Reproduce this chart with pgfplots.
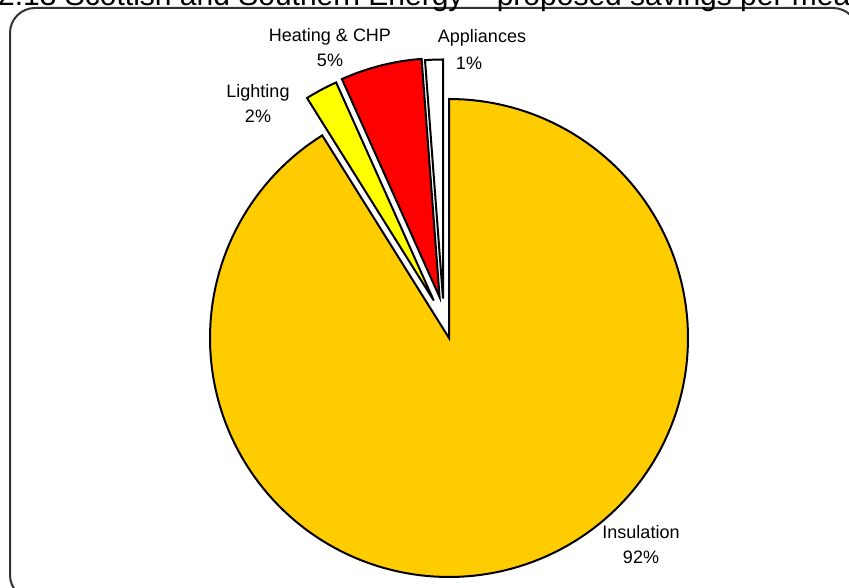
\documentclass[border=0pt]{standalone}
\usepackage{pgfplots}
\pgfplotsset{compat=1.18}
\usepackage{pgfplotstable}
\usepackage{fontspec}
\setmainfont{Liberation Sans}

\definecolor{insul}{HTML}{FFCC00}
\definecolor{light}{HTML}{FFFF00}
\definecolor{heat}{HTML}{FF0000}
\definecolor{appl}{HTML}{FFFFFF}

% share of savings (%), explode offset of the slice (px), fill colour
\pgfplotstableread{
name        value  dx     dy    col
Insulation  91.1   0      0     insul
Lighting    2.2    -15.2  37.4  light
Heating     5.5    -9.4   40.8  heat
Appliances  1.2    -6.0   39.5  appl
}\piedata

\begin{document}
\begin{tikzpicture}
\begin{axis}[
  name=ax,
  x=1pt, y=1pt,
  xmin=0, xmax=849, ymin=0, ymax=588,
  hide axis,
  clip=false,
]
% frame (cut by the page at right and bottom)
\draw[rounded corners=25pt, line width=2pt, black!80] (axis cs:10,-12) rectangle (axis cs:858,580);

\pgfmathsetmacro\cum{0}
\pgfplotsforeachungrouped \i in {0,...,3}{%
  \pgfplotstablegetelem{\i}{value}\of\piedata \pgfmathsetmacro\val{\pgfplotsretval}%
  \pgfplotstablegetelem{\i}{dx}\of\piedata \pgfmathsetmacro\ddx{\pgfplotsretval}%
  \pgfplotstablegetelem{\i}{dy}\of\piedata \pgfmathsetmacro\ddy{\pgfplotsretval}%
  \pgfplotstablegetelem{\i}{col}\of\piedata \edef\col{\pgfplotsretval}%
  \pgfmathsetmacro\hi{90-3.6*\cum}%
  \pgfmathsetmacro\lo{90-3.6*(\cum+\val)}%
  \pgfmathsetmacro\cx{449+\ddx}%
  \pgfmathsetmacro\cy{250+\ddy}%
  \edef\doplot{\noexpand\addplot[draw=black, line width=2pt, fill=\col,
    domain=\lo:\hi, samples=180]
    ({\cx+239*cos(x)},{\cy+239*sin(x)}) -- (axis cs:\cx,\cy) -- cycle;}%
  \doplot
  \pgfmathsetmacro\cum{\cum+\val}%
}

\node[anchor=base west, inner sep=0pt, font=\fontsize{30}{36}\selectfont]
  at (axis cs:-2,582.5) {2.13 Scottish and Southern Energy – proposed savings per measure};

\node[align=center, inner sep=0pt, font=\fontsize{18}{25}\selectfont]
  at (axis cs:330,540.5) {Heating \& CHP\\5\%};
\node[inner sep=0pt, font=\fontsize{18}{25}\selectfont] at (axis cs:482,550) {Appliances};
\node[inner sep=0pt, font=\fontsize{18}{25}\selectfont] at (axis cs:469,525) {1\%};
\node[align=center, inner sep=0pt, font=\fontsize{18}{25}\selectfont]
  at (axis cs:258,484) {Lighting\\2\%};
\node[align=center, inner sep=0pt, font=\fontsize{18}{25}\selectfont]
  at (axis cs:641,43.5) {Insulation\\92\%};
\end{axis}
\pgfresetboundingbox
\path[use as bounding box] (ax.south west) rectangle (ax.north east);
\end{tikzpicture}
\end{document}
